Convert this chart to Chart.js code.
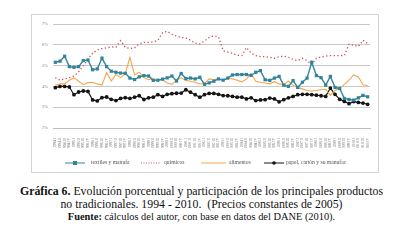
<!DOCTYPE html>
<html>
<head>
<meta charset="utf-8">
<script src="https://cdn.jsdelivr.net/npm/chart.js@4/dist/chart.umd.min.js"></script>
<style>
    html, body { margin: 0; padding: 0; background: #fff; }
    body { width: 403px; height: 243px; position: relative; overflow: hidden; }
    .frame {
        position: absolute; left: 31px; top: 14px; width: 346px; height: 157px;
        border: 1px solid #d4d4d4;
    }
    .frame canvas { display: block; }
    .caption {
        position: absolute; left: 0; top: 185px; width: 403px;
        font-family: "Liberation Serif", "DejaVu Serif", serif; color: #111;
        text-align: center;
    }
    .caption .l1 { font-size: 11.8px; line-height: 12.5px; white-space: nowrap; }
    .caption .l2 { font-size: 10.4px; line-height: 13px; white-space: nowrap; }
</style>
</head>
<body>
<div class="frame"><canvas id="chart" width="346" height="157"></canvas></div>
<div class="caption">
    <div class="l1"><b>Gráfica 6.</b> Evolución porcentual y participación de los principales productos</div>
    <div class="l1">no tradicionales. 1994 - 2010.&nbsp; (Precios constantes de 2005)</div>
    <div class="l2"><b>Fuente:</b> cálculos del autor, con base en datos del DANE (2010).</div>
</div>
<script>
const years = [1994, 1995, 1996, 1997, 1998, 1999, 2000, 2001, 2002, 2003, 2004, 2005, 2006, 2007, 2008, 2009, 2010];
const quarters = ['I', 'II', 'III', 'IV'];

const textiles = [
    5.16, 5.21, 5.45, 4.95, 4.92, 4.95, 5.24, 5.27, 4.80, 4.84,
    5.36, 4.95, 4.73, 4.68, 4.64, 4.63, 4.40, 4.33, 4.46, 4.52,
    4.50, 4.29, 4.30, 4.35, 4.41, 4.50, 4.26, 4.62, 4.38, 4.40,
    4.36, 4.44, 4.10, 4.17, 4.25, 4.36, 4.30, 4.40, 4.55, 4.57,
    4.57, 4.57, 4.53, 4.68, 4.76, 4.32, 4.29, 4.40, 4.48, 4.06,
    4.00, 4.28, 3.95, 4.20, 4.40, 5.16, 4.52, 4.42, 4.06, 4.48,
    3.95, 3.90, 3.42, 3.37, 3.34, 3.45, 3.57, 3.50
];
const quimicos = [
    4.42, 4.30, 4.36, 4.42, 4.50, 4.70, 5.00, 5.30, 5.60, 5.75,
    5.82, 5.85, 5.90, 5.88, 6.20, 5.88, 5.82, 5.85, 6.05, 6.12,
    6.12, 6.14, 6.22, 6.58, 6.65, 6.50, 6.42, 6.35, 6.33, 6.22,
    6.08, 6.04, 6.18, 6.35, 6.43, 6.38, 5.71, 5.65, 5.59, 5.50,
    5.48, 5.87, 5.60, 5.48, 5.43, 5.43, 5.40, 5.35, 5.43, 5.45,
    5.40, 5.30, 5.24, 5.35, 5.24, 5.05, 5.35, 5.40, 5.46, 5.48,
    5.48, 5.48, 5.48, 6.03, 5.98, 5.92, 6.22, 6.05
];
const alimentos = [
    4.05, 4.12, 4.12, 4.30, 4.42, 4.25, 4.08, 4.18, 4.20, 4.12,
    4.06, 4.66, 4.26, 4.58, 4.42, 4.60, 5.40, 4.55, 4.68, 4.42,
    4.32, 4.37, 4.30, 4.32, 4.16, 4.10, 4.29, 4.41, 4.29, 4.25,
    4.20, 4.12, 4.14, 4.36, 4.32, 4.37, 4.30, 4.40, 4.36, 4.30,
    4.22, 4.35, 4.60, 4.25, 4.20, 4.16, 4.12, 4.24, 4.12, 4.08,
    4.26, 4.05, 3.94, 3.88, 3.80, 3.78, 3.80, 3.84, 3.86, 3.57,
    3.82, 3.92, 4.10, 4.30, 4.55, 4.45, 4.08, 4.04
];
const papel = [
    3.94, 4.00, 4.00, 3.97, 3.60, 3.73, 3.78, 3.76, 3.35, 3.30,
    3.46, 3.49, 3.38, 3.32, 3.42, 3.46, 3.42, 3.48, 3.55, 3.37,
    3.45, 3.48, 3.60, 3.52, 3.62, 3.65, 3.67, 3.68, 3.84, 3.72,
    3.60, 3.48, 3.60, 3.66, 3.66, 3.62, 3.56, 3.55, 3.52, 3.48,
    3.48, 3.40, 3.45, 3.32, 3.35, 3.36, 3.44, 3.40, 3.26, 3.36,
    3.45, 3.52, 3.60, 3.62, 3.62, 3.60, 3.58, 3.55, 3.52, 3.92,
    3.62, 3.38, 3.28, 3.17, 3.27, 3.23, 3.20, 3.14
];

const labels = [];
for (let y of years) {
    for (let q of quarters) labels.push(y + ' ' + q);
}

const TEAL = '#31849b';
const RED = '#c9505a';
const ORANGE = '#f5a64c';
const BLACK = '#141414';

// legend drawn by hand: line + marker + text, like the spreadsheet one
const legendItems = [
    { text: 'textiles y manufa', color: TEAL, x0: 33, x1: 53, marker: 'rect', tx: 59 },
    { text: 'químicos', color: RED, x0: 109, x1: 129, dash: [1, 1.5], tx: 132 },
    { text: 'alimentos', color: ORANGE, x0: 169, x1: 194, tx: 197 },
    { text: 'papel, cartón y su manufac', color: BLACK, x0: 232, x1: 252, marker: 'circle', tx: 254 }
];

const legendPlugin = {
    id: 'handLegend',
    afterDraw(chart) {
        const ctx = chart.ctx;
        const y = 148;
        ctx.save();
        for (let item of legendItems) {
            ctx.strokeStyle = item.color;
            ctx.lineWidth = 1;
            ctx.setLineDash(item.dash || []);
            ctx.beginPath();
            ctx.moveTo(item.x0, y);
            ctx.lineTo(item.x1, y);
            ctx.stroke();
            ctx.setLineDash([]);
            const mx = (item.x0 + item.x1) / 2;
            ctx.fillStyle = item.color;
            if (item.marker === 'rect') ctx.fillRect(mx - 2, y - 2, 4, 4);
            if (item.marker === 'circle') {
                ctx.beginPath();
                ctx.arc(mx, y, 1.8, 0, Math.PI * 2);
                ctx.fill();
            }
            ctx.fillStyle = '#555';
            ctx.font = '5.6px "Liberation Serif", serif';
            ctx.textBaseline = 'middle';
            ctx.fillText(item.text, item.tx, y);
        }
        ctx.restore();
    }
};

const ctx = document.getElementById('chart').getContext('2d');
new Chart(ctx, {
    type: 'line',
    data: {
        labels,
        datasets: [
            {
                label: 'textiles y manufa',
                data: textiles,
                borderColor: TEAL,
                backgroundColor: TEAL,
                borderWidth: 1.4,
                pointStyle: 'rect',
                pointRadius: 2.3,
                pointBorderWidth: 0,
                pointBackgroundColor: TEAL
            },
            {
                label: 'químicos',
                data: quimicos,
                borderColor: RED,
                borderWidth: 1.3,
                borderDash: [1.3, 2.4],
                pointRadius: 0
            },
            {
                label: 'alimentos',
                data: alimentos,
                borderColor: ORANGE,
                borderWidth: 1.1,
                pointRadius: 0
            },
            {
                label: 'papel, cartón y su manufac',
                data: papel,
                borderColor: BLACK,
                backgroundColor: BLACK,
                borderWidth: 1.2,
                pointStyle: 'circle',
                pointRadius: 1.9,
                pointBorderWidth: 0,
                pointBackgroundColor: BLACK
            }
        ]
    },
    options: {
        responsive: false,
        animation: false,
        events: [],
        layout: { padding: { left: 0, top: 9, right: 8, bottom: 24 } },
        plugins: {
            legend: { display: false },
            tooltip: { enabled: false }
        },
        scales: {
            x: {
                offset: true,
                grid: { display: false },
                border: { color: '#bfbfbf' },
                ticks: {
                    autoSkip: false,
                    minRotation: 90,
                    maxRotation: 90,
                    padding: 2,
                    color: '#777',
                    font: { size: 3.6, family: 'Liberation Serif' }
                },
                afterFit: (scale) => { scale.height = 20; }
            },
            y: {
                min: 2,
                max: 7,
                ticks: {
                    stepSize: 1,
                    padding: 5,
                    color: '#888',
                    font: { size: 4.5, family: 'Liberation Serif' },
                    callback: (v) => v + '%'
                },
                grid: { color: '#c8c8c8', drawTicks: false },
                border: { display: false },
                afterFit: (scale) => { scale.width = 21; }
            }
        }
    },
    plugins: [legendPlugin]
});
</script>
</body>
</html>
